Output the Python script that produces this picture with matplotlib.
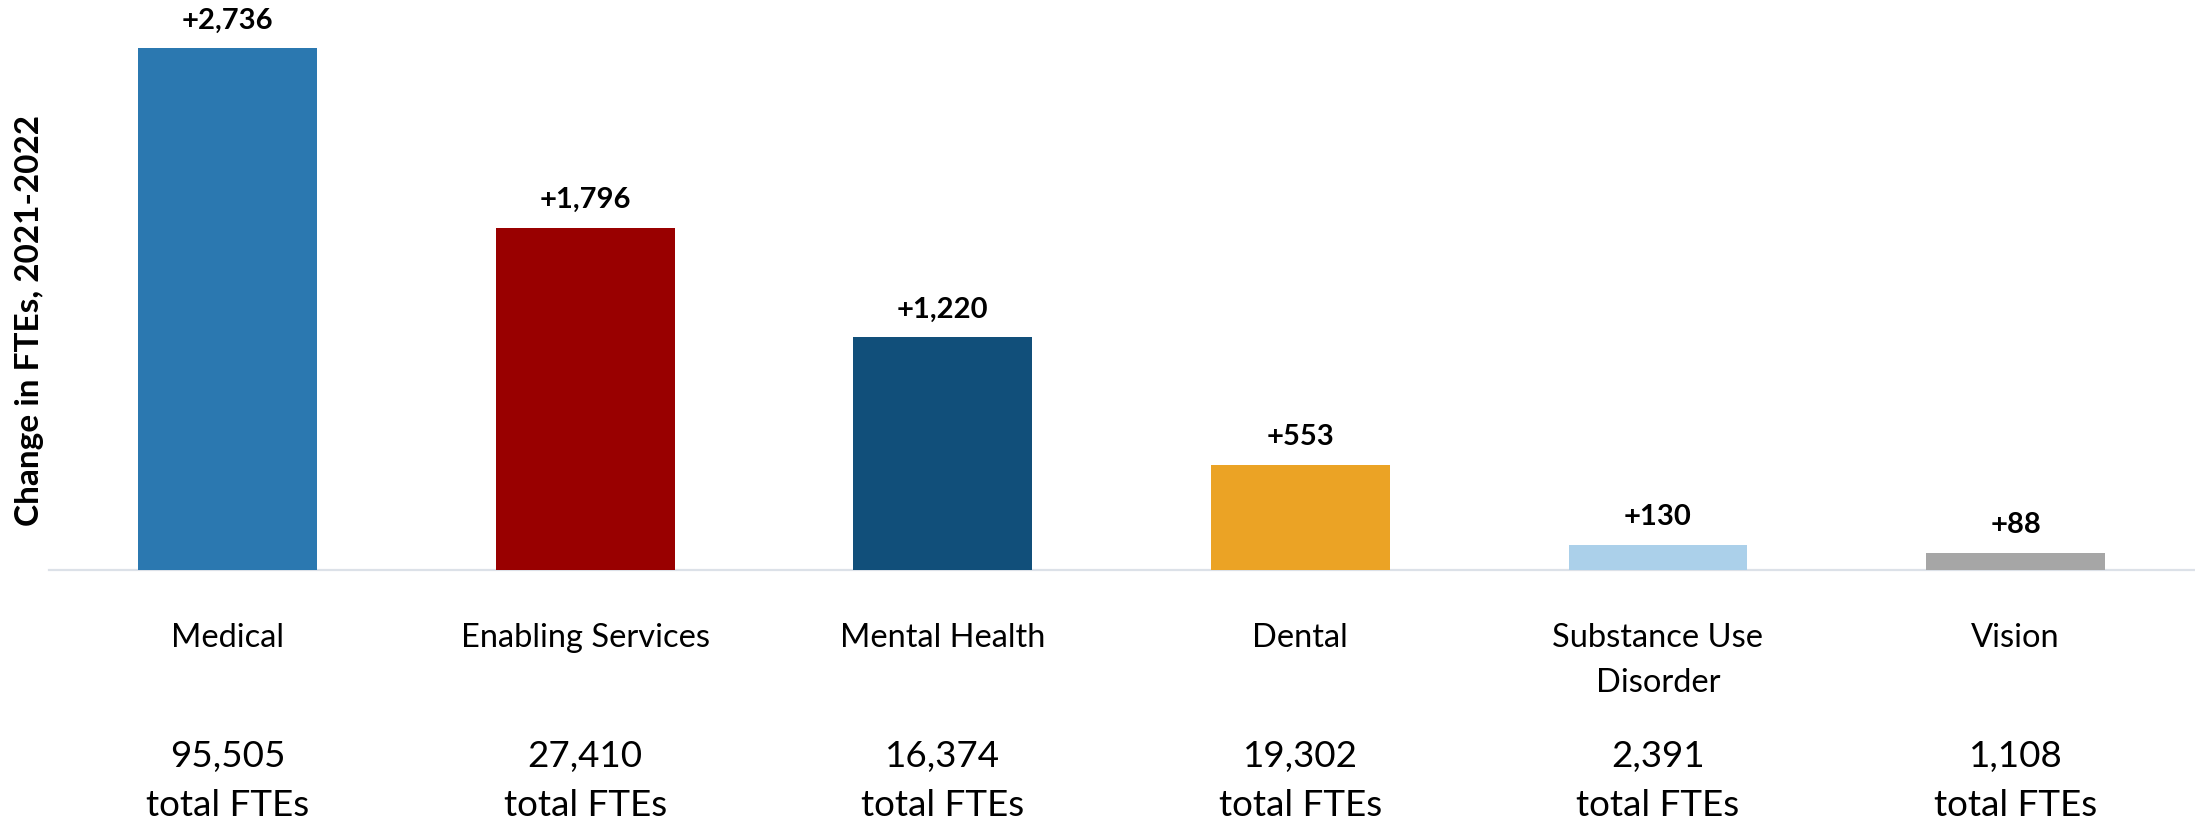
import matplotlib
matplotlib.use("Agg")
import matplotlib.pyplot as plt

plt.rcParams['font.family'] = ['Lato', 'DejaVu Sans']

# Data
categories = ["Medical", "Enabling Services", "Mental Health", "Dental",
              "Substance Use\nDisorder", "Vision"]
change_ftes = [2736, 1796, 1220, 553, 130, 88]
total_ftes = [95505, 27410, 16374, 19302, 2391, 1108]
bar_colors = ["#2B78B0", "#990000", "#114F7A", "#EBA325", "#ABD0EA", "#A6A6A6"]

W, H, DPI = 2195, 822, 100
fig = plt.figure(figsize=(W / DPI, H / DPI), dpi=DPI)

# axes placement in pixels (left, right, baseline)
ax_left, ax_right, ax_base = 48.7, 2194.3, 570
ax = fig.add_axes([ax_left / W, (H - ax_base) / H,
                   (ax_right - ax_left) / W, ax_base / H])

x = list(range(len(categories)))
ax.bar(x, change_ftes, width=0.5, color=bar_colors, zorder=2)

ax.set_xlim(-0.5, len(categories) - 0.5)
ax.set_ylim(0, 2990)

for side in ("top", "right", "left"):
    ax.spines[side].set_visible(False)
ax.spines["bottom"].set_color("#DCE1E8")
ax.spines["bottom"].set_linewidth(1.6)
ax.spines["bottom"].set_zorder(1)
ax.set_yticks([])
ax.set_xticks([])

px = 72.0 / DPI  # pixels -> points

# value labels above bars
for xi, v in zip(x, change_ftes):
    ax.annotate(f"+{v:,}", xy=(xi, v), xytext=(0, 20 * px),
                textcoords="offset points", ha="center", va="baseline",
                fontsize=21, fontweight="bold", color="black")

# category names and totals beneath the axis
for xi, name, tot in zip(x, categories, total_ftes):
    for k, line in enumerate(name.split("\n")):
        ax.annotate(line, xy=(xi, 0), xycoords=("data", "axes fraction"),
                    xytext=(0, -(77 + 45 * k) * px), textcoords="offset points",
                    ha="center", va="baseline", fontsize=23.5, color="black")
    ax.annotate(f"{tot:,}", xy=(xi, 0), xycoords=("data", "axes fraction"),
                xytext=(0, -197 * px), textcoords="offset points",
                ha="center", va="baseline", fontsize=26.5, color="black")
    ax.annotate("total FTEs", xy=(xi, 0), xycoords=("data", "axes fraction"),
                xytext=(0, -246 * px), textcoords="offset points",
                ha="center", va="baseline", fontsize=26.5, color="black")

fig.text(30 / W, 1 - 320 / H, "Change in FTEs, 2021-2022", rotation=90,
         ha="center", va="center", fontsize=24, fontweight="bold", color="black")

fig.savefig("out.png", dpi=DPI, facecolor="white")
